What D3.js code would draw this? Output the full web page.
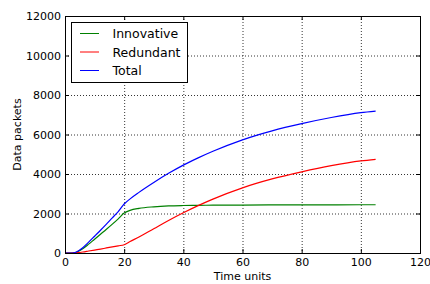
<!DOCTYPE html>
<html>
<head>
<meta charset="utf-8">
<script src="https://cdn.jsdelivr.net/npm/d3@7"></script>
<style>
  body { margin: 0; background: #fff; }
  text { font-family: "DejaVu Sans", sans-serif; fill: #000; }
</style>
</head>
<body>
<svg id="vis" width="430" height="284"></svg>
<script>
// values
const time = [0, 2, 3, 4, 6, 8, 10, 12, 14, 16, 18, 20, 22, 25, 30, 35, 40, 45, 50, 60, 70, 80, 90, 100, 105]
const innovative = [0, 0, 10, 50, 220, 450, 700, 950, 1200, 1460, 1730, 2020, 2160, 2260, 2340, 2385, 2405, 2415, 2420, 2428, 2434, 2438, 2441, 2443, 2444]
const redundant = [0, 0, 3, 15, 50, 100, 150, 200, 255, 310, 365, 420, 580, 810, 1230, 1650, 2040, 2400, 2730, 3300, 3750, 4110, 4420, 4660, 4740]
const total = [0, 0, 13, 65, 270, 550, 850, 1150, 1460, 1780, 2100, 2480, 2740, 3070, 3570, 4035, 4450, 4815, 5150, 5730, 6185, 6550, 6860, 7105, 7185]

const seriesNames = ["Innovative", "Redundant", "Total"]
const seriesColors = ["#008000", "#ff0000", "#0000ff"]
const xTicks = [0, 20, 40, 60, 80, 100, 120]
const yTicks = [0, 2000, 4000, 6000, 8000, 10000, 12000]

const pLeft = 65, pRight = 420, pTop = 16, pBottom = 253

const x = d3.scaleLinear().domain([0, 120]).range([pLeft, pRight])
const y = d3.scaleLinear().domain([0, 12000]).range([pBottom, pTop])

const svg = d3.select("#vis")

// dotted grid
svg.append("g").selectAll("line")
    .data(xTicks.slice(1, -1))
    .join("line")
    .attr("x1", d => x(d) + 0.5).attr("x2", d => x(d) + 0.5)
    .attr("y1", pTop).attr("y2", pBottom)
    .attr("stroke", "#000").attr("stroke-width", 0.8)
    .attr("stroke-dasharray", "1,2")
svg.append("g").selectAll("line")
    .data(yTicks.slice(1, -1))
    .join("line")
    .attr("x1", pLeft).attr("x2", pRight)
    .attr("y1", d => y(d) + 0.5).attr("y2", d => y(d) + 0.5)
    .attr("stroke", "#000").attr("stroke-width", 0.8)
    .attr("stroke-dasharray", "1,2")

// lines
const rows = time.map((t, i) => ({ t: t, v: [innovative[i], redundant[i], total[i]] }))
const line = k => d3.line()
    .x(d => x(d.t))
    .y(d => y(d.v[k]))
    .curve(d3.curveMonotoneX)

seriesNames.forEach((name, k) => {
    svg.append("path")
        .datum(rows)
        .attr("fill", "none")
        .attr("stroke", seriesColors[k])
        .attr("stroke-width", 1.2)
        .attr("d", line(k))
})

// axes with inward ticks on all sides
const fmt = d3.format("d")
const ax = (g, axis) => g.call(axis).call(g => g.select(".domain").remove())
svg.append("g").attr("transform", `translate(0,${pBottom})`)
    .call(g => ax(g, d3.axisBottom(x).tickValues(xTicks).tickFormat(fmt).tickSizeInner(-4).tickSizeOuter(0).tickPadding(5)))
svg.append("g").attr("transform", `translate(0,${pTop})`)
    .call(g => ax(g, d3.axisTop(x).tickValues(xTicks).tickSizeInner(-4).tickSizeOuter(0).tickFormat("")))
svg.append("g").attr("transform", `translate(${pLeft},0)`)
    .call(g => ax(g, d3.axisLeft(y).tickValues(yTicks).tickFormat(fmt).tickSizeInner(-4).tickSizeOuter(0).tickPadding(4)))
svg.append("g").attr("transform", `translate(${pRight},0)`)
    .call(g => ax(g, d3.axisRight(y).tickValues(yTicks).tickSizeInner(-4).tickSizeOuter(0).tickFormat("")))

svg.selectAll(".tick text").style("font-size", "11px").style("font-family", "DejaVu Sans")
svg.selectAll(".tick line").attr("stroke", "#000")

// frame
svg.append("rect")
    .attr("x", pLeft + 0.5).attr("y", pTop + 0.5)
    .attr("width", pRight - pLeft).attr("height", pBottom - pTop)
    .attr("fill", "none").attr("stroke", "#000").attr("stroke-width", 1)

// axis labels
svg.append("text")
    .attr("x", (pLeft + pRight) / 2).attr("y", 280)
    .attr("text-anchor", "middle").style("font-size", "11px")
    .text("Time units")
svg.append("text")
    .attr("transform", `translate(21,${(pTop + pBottom) / 2}) rotate(-90)`)
    .attr("text-anchor", "middle").style("font-size", "11px")
    .text("Data packets")

// legend
const legend = svg.append("g")
legend.append("rect")
    .attr("x", 71.5).attr("y", 22.5).attr("width", 116).attr("height", 60)
    .attr("fill", "#fff").attr("stroke", "#000").attr("stroke-width", 1)
const entries = legend.selectAll("g.entry")
    .data(seriesNames)
    .join("g")
    .attr("class", "entry")
    .attr("transform", (d, i) => `translate(0,${33.5 + i * 18.5})`)
entries.append("line")
    .attr("x1", 80).attr("x2", 99)
    .attr("stroke", (d, i) => seriesColors[i]).attr("stroke-width", 1)
entries.append("text")
    .attr("x", 112.5).attr("dy", "0.36em")
    .style("font-size", "12.5px")
    .text(d => d)
</script>
</body>
</html>
